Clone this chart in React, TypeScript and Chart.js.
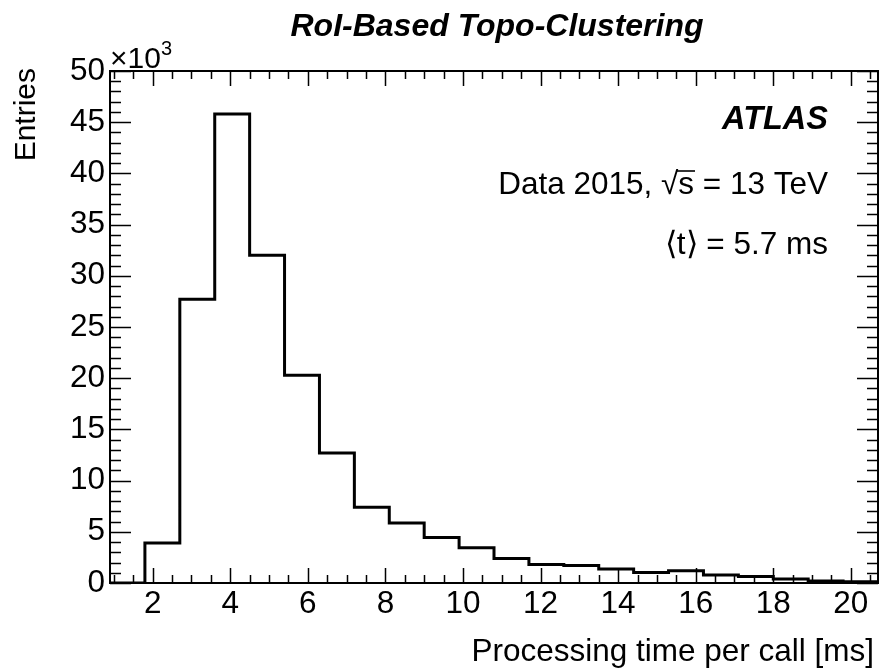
import React, { useEffect, useRef } from "react";
import { Chart, registerables } from "chart.js";

Chart.register(...registerables);

// ---- data ----
const binEdges = [0.9, 1.8, 2.7, 3.6, 4.5, 5.4, 6.3, 7.2, 8.1, 9.0, 9.9, 10.8, 11.7, 12.6, 13.5, 14.4, 15.3, 16.2, 17.1, 18.0, 18.9, 19.8, 20.7];
const entries = [0, 3900, 27700, 45800, 32000, 20300, 12700, 7400, 5850, 4450, 3450, 2400, 1800, 1700, 1370, 1030, 1200, 780, 630, 390, 200, 130];
const xTickValues = [2, 4, 6, 8, 10, 12, 14, 16, 18, 20];
const yTickValues = [0, 5000, 10000, 15000, 20000, 25000, 30000, 35000, 40000, 45000, 50000];
const xMinorStep = 0.5;
const yMinorStep = 1000;

const titleText = "RoI-Based Topo-Clustering";
const xTitle = "Processing time per call [ms]";
const yTitle = "Entries";
const atlasLabel = "ATLAS";
const dataLabelPre = "Data 2015, √";
const dataLabelS = "s";
const dataLabelPost = " = 13 TeV";
const meanLabel = "⟨t⟩ = 5.7 ms";

const FONT = "'Liberation Sans', Arial, Helvetica, sans-serif";
const FS = 31.5;

const rootStyle = {
  id: "rootStyle",
  afterDraw(chart: any) {
    const { ctx, chartArea: a, scales } = chart;
    const xs = scales.x;
    const ys = scales.y;
    ctx.save();
    ctx.strokeStyle = "#000";
    ctx.fillStyle = "#000";
    // frame
    ctx.lineWidth = 2;
    ctx.strokeRect(a.left, a.top, a.right - a.left, a.bottom - a.top);
    // ticks
    ctx.lineWidth = 1.5;
    ctx.beginPath();
    for (let v = Math.ceil(xs.min / xMinorStep) * xMinorStep; v <= xs.max + 1e-9; v += xMinorStep) {
      const px = Math.round(xs.getPixelForValue(v)) + 0.5;
      const major = xTickValues.some((t) => Math.abs(t - v) < 1e-6);
      const len = major ? 15 : 8;
      ctx.moveTo(px, a.bottom);
      ctx.lineTo(px, a.bottom - len);
      ctx.moveTo(px, a.top);
      ctx.lineTo(px, a.top + len);
    }
    for (let v = ys.min; v <= ys.max + 1e-6; v += yMinorStep) {
      const py = Math.round(ys.getPixelForValue(v)) + 0.5;
      const major = yTickValues.some((t) => Math.abs(t - v) < 1e-6);
      const len = major ? 21 : 11;
      ctx.moveTo(a.left, py);
      ctx.lineTo(a.left + len, py);
      ctx.moveTo(a.right, py);
      ctx.lineTo(a.right - len, py);
    }
    ctx.stroke();

    // title
    ctx.textBaseline = "alphabetic";
    ctx.font = `italic bold 32px ${FONT}`;
    ctx.textAlign = "center";
    ctx.fillText(titleText, 497, 36);

    // x10^3
    ctx.textAlign = "left";
    ctx.font = `30px ${FONT}`;
    ctx.fillText("×10", a.left, 68);
    const w10 = ctx.measureText("×10").width;
    ctx.font = `20px ${FONT}`;
    ctx.fillText("3", a.left + w10, 55);

    // x-axis title
    ctx.font = `${FS}px ${FONT}`;
    ctx.textAlign = "right";
    ctx.fillText(xTitle, 874, 661);

    // y-axis title
    ctx.save();
    ctx.translate(35, 68);
    ctx.rotate(-Math.PI / 2);
    ctx.textAlign = "right";
    ctx.font = `30px ${FONT}`;
    ctx.fillText(yTitle, 0, 0);
    ctx.restore();

    // ATLAS
    const rx = 828;
    ctx.font = `italic bold 32.5px ${FONT}`;
    ctx.textAlign = "right";
    ctx.fillText(atlasLabel, rx, 129);

    // Data 2015, sqrt(s) = 13 TeV
    ctx.font = `${FS}px ${FONT}`;
    ctx.textAlign = "left";
    const wPre = ctx.measureText(dataLabelPre).width;
    const wS = ctx.measureText(dataLabelS).width;
    const wPost = ctx.measureText(dataLabelPost).width;
    const x0 = rx - (wPre + wS + wPost);
    const by = 194;
    ctx.fillText(dataLabelPre, x0, by);
    ctx.fillText(dataLabelS, x0 + wPre, by);
    ctx.fillText(dataLabelPost, x0 + wPre + wS, by);
    ctx.lineWidth = 1.6;
    ctx.beginPath();
    ctx.moveTo(x0 + wPre - 2, by - 23);
    ctx.lineTo(x0 + wPre + wS + 1, by - 23);
    ctx.stroke();

    // <t> = 5.7 ms
    ctx.textAlign = "right";
    ctx.fillText(meanLabel, rx, 254);

    ctx.restore();
  },
};

export default function App() {
  const ref = useRef<HTMLCanvasElement | null>(null);
  useEffect(() => {
    if (!ref.current) return;
    const points = binEdges.slice(0, -1).map((x, i) => ({ x, y: entries[i] }));
    points.push({ x: binEdges[binEdges.length - 1], y: entries[entries.length - 1] });
    const chart = new Chart(ref.current, {
      type: "line",
      data: {
        datasets: [
          {
            data: points,
            stepped: true,
            borderColor: "#000",
            borderWidth: 3,
            pointRadius: 0,
            fill: false,
          },
        ],
      },
      options: {
        animation: false,
        responsive: false,
        maintainAspectRatio: false,
        events: [],
        layout: { padding: { left: 0, top: 71, right: 5, bottom: 36 } },
        plugins: { legend: { display: false }, tooltip: { enabled: false }, title: { display: false } },
        scales: {
          x: {
            type: "linear",
            min: binEdges[0],
            max: binEdges[binEdges.length - 1],
            afterBuildTicks: (s: any) => {
              s.ticks = xTickValues.map((v) => ({ value: v }));
            },
            afterFit: (s: any) => {
              s.height = 50;
            },
            grid: { display: false, drawTicks: false },
            border: { display: false },
            ticks: {
              autoSkip: false,
              maxRotation: 0,
              padding: 2,
              color: "#000",
              font: { family: FONT, size: FS },
            },
          },
          y: {
            type: "linear",
            min: yTickValues[0],
            max: yTickValues[yTickValues.length - 1],
            afterBuildTicks: (s: any) => {
              s.ticks = yTickValues.map((v) => ({ value: v }));
            },
            afterFit: (s: any) => {
              s.width = 110;
            },
            grid: { display: false, drawTicks: false },
            border: { display: false },
            ticks: {
              padding: 5,
              color: "#000",
              font: { family: FONT, size: FS },
              callback: (v: any) => String(Number(v) / 1000),
            },
          },
        },
      },
      plugins: [rootStyle],
    });
    return () => chart.destroy();
  }, []);
  return (
    <div style={{ position: "absolute", left: 0, top: 0, width: 883, height: 669, background: "#fff" }}>
      <canvas ref={ref} width={883} height={669} style={{ width: 883, height: 669, display: "block" }} />
    </div>
  );
}
